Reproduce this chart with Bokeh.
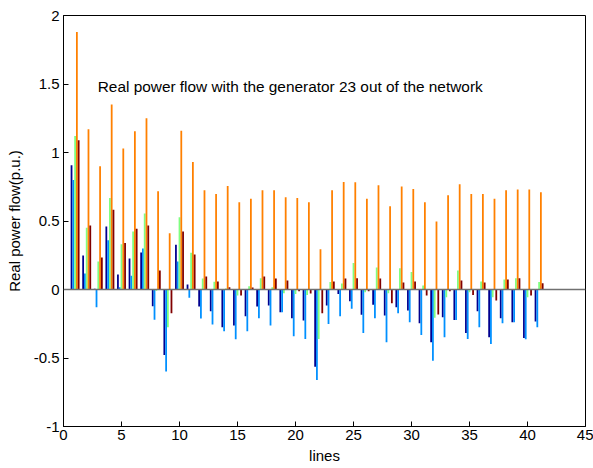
from bokeh.plotting import figure
from bokeh.models import ColumnDataSource, Span, Label, FixedTicker
from bokeh.transform import dodge
from bokeh.embed import file_html
from bokeh.resources import INLINE

lines = list(range(1, 42))
navy = [0.907, 0.249, 0.005, 0.46, 0.11, 0.227, 0.27, -0.122, -0.478, 0.327,
        0.037, -0.124, -0.159, -0.276, -0.263, -0.195, -0.124, -0.117, -0.166, -0.21,
        -0.227, -0.563, -0.117, -0.032, -0.085, -0.185, -0.112, -0.19, -0.129, -0.154,
        -0.246, -0.385, -0.202, -0.222, -0.317, -0.159, -0.349, -0.21, -0.239, -0.354, -0.234]
lightblue = [0.80, 0.117, -0.13, 0.359, 0.017, 0.10, 0.30, -0.22, -0.598, 0.205,
             -0.06, -0.212, -0.256, -0.305, -0.363, -0.305, -0.21, -0.263, -0.166, -0.341,
             -0.361, -0.661, -0.251, -0.195, -0.141, -0.317, -0.21, -0.385, -0.173, -0.239,
             -0.332, -0.52, -0.349, -0.222, -0.361, -0.276, -0.398, -0.246, -0.239, -0.363, -0.276]
green = [1.12, 0.451, 0.205, 0.668, 0.33, 0.424, 0.554, -0.01, -0.276, 0.527,
         0.268, 0.08, 0.056, 0.007, -0.044, 0.024, 0.083, 0.017, -0.027, -0.032,
         -0.04, -0.361, 0.054, 0.044, 0.193, -0.02, 0.161, -0.027, 0.156, 0.127,
         0.029, -0.207, -0.056, 0.139, -0.02, 0.059, -0.056, 0.073, 0.083, -0.056, 0.054]
orange = [1.88, 1.17, 0.90, 1.35, 1.03, 1.156, 1.25, 0.717, 0.41, 1.158,
          0.93, 0.724, 0.697, 0.756, 0.636, 0.663, 0.724, 0.724, 0.673, 0.668,
          0.636, 0.293, 0.724, 0.785, 0.783, 0.663, 0.761, 0.607, 0.751, 0.733,
          0.636, 0.497, 0.688, 0.768, 0.697, 0.697, 0.663, 0.724, 0.73, 0.73, 0.71]
darkred = [1.09, 0.468, 0.234, 0.583, 0.339, 0.444, 0.468, 0.139, -0.173, 0.424,
           0.256, 0.095, 0.059, 0.017, -0.044, 0.015, 0.095, 0.08, 0.066, -0.012,
           -0.03, -0.173, 0.059, 0.08, 0.083, -0.012, 0.08, -0.1, 0.051, 0.059,
           -0.044, -0.183, -0.012, 0.066, -0.04, 0.051, -0.08, 0.073, 0.083, -0.044, 0.046]

series = ["navy", "lightblue", "green", "orange", "darkred"]
colors = ["#00008F", "#0090FF", "#80FF80", "#FF8000", "#800000"]
x_ticks = [0, 5, 10, 15, 20, 25, 30, 35, 40, 45]
y_ticks = [-1, -0.5, 0, 0.5, 1, 1.5, 2]
y_tick_labels = ["-1", "-0.5", "0", "0.5", "1", "1.5", "2"]
title_text = "Real power flow with the generator 23 out of the network"

source = ColumnDataSource(dict(lines=lines, navy=navy, lightblue=lightblue,
                               green=green, orange=orange, darkred=darkred))

FONT = "Liberation Sans"
p = figure(width=593, height=468, x_range=(0, 45), y_range=(-1, 2),
           output_backend="svg", toolbar_location=None,
           min_border_left=63, min_border_right=8, min_border_top=15, min_border_bottom=42)

n = len(series)
group_w = min(0.8, n / (n + 1.5))
bw = group_w / n
for i, (s, c) in enumerate(zip(series, colors)):
    off = (i - (n - 1) / 2) * bw
    p.vbar(x=dodge("lines", off, range=p.x_range), top=s, bottom=0, width=bw,
           source=source, fill_color=c, line_color=None)

p.add_layout(Span(location=0, dimension="width", line_color="#707070", line_width=1.5))

p.add_layout(Label(x=2.95, y=1.485, text=title_text, text_font=FONT,
                   text_font_size="15.4px", text_baseline="middle", text_color="#000000"))

p.xgrid.visible = False
p.ygrid.visible = False
p.outline_line_color = "black"
p.outline_line_width = 1
p.outline_line_alpha = 1

p.xaxis.ticker = FixedTicker(ticks=x_ticks)
p.yaxis.ticker = FixedTicker(ticks=y_ticks)
p.yaxis.major_label_overrides = {t: l for t, l in zip(y_ticks, y_tick_labels)}
p.xaxis.major_label_overrides = {t: str(t) for t in x_ticks}
for ax in (p.xaxis[0], p.yaxis[0]):
    ax.major_tick_in = 5
    ax.major_tick_out = 0
    ax.minor_tick_in = 0
    ax.minor_tick_out = 0
    ax.axis_line_color = "black"
    ax.major_tick_line_color = "black"
    ax.major_label_text_font = FONT
    ax.major_label_text_font_size = "15px"
    ax.major_label_text_color = "black"
    ax.axis_label_text_font = FONT
    ax.axis_label_text_font_size = "15px"
    ax.axis_label_text_font_style = "normal"
    ax.axis_label_text_color = "black"
p.xaxis.axis_label = "lines"
p.yaxis.axis_label = "Real power flow(p.u.)"
p.xaxis.major_label_standoff = 3
p.yaxis.major_label_standoff = 4
p.xaxis.axis_label_standoff = 4
p.yaxis.axis_label_standoff = 8

open("out.html", "w").write(file_html(p, INLINE))
